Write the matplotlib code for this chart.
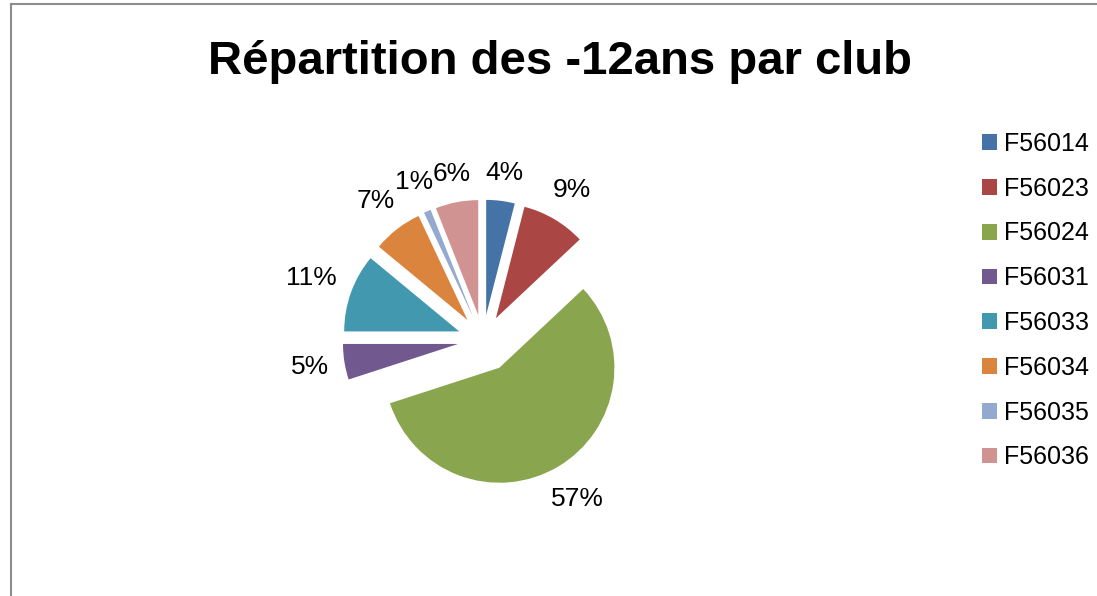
import matplotlib
matplotlib.use("Agg")
import matplotlib.pyplot as plt
import numpy as np
from matplotlib.lines import Line2D
from matplotlib.patches import Patch

plt.rcParams['font.family'] = ['Liberation Sans', 'DejaVu Sans']

# Share of under-12 players per club (percent)
clubs = ["F56014", "F56023", "F56024", "F56031", "F56033", "F56034", "F56035", "F56036"]
shares = [4, 9, 57, 5, 11, 7, 1, 6]
colors = ["#4572A7", "#AA4643", "#89A54E", "#71588F", "#4198AF", "#DB843D", "#93A9CF", "#D19392"]
explode = [0.22, 0.22, 0.28, 0.22, 0.22, 0.22, 0.22, 0.22]

W, H, DPI = 1097, 596, 100
fig = plt.figure(figsize=(W / DPI, H / DPI), dpi=DPI)

# pie axes: 1 data unit = R pixels, centred at (cx, cy) in pixels from top-left
R = 115.0
cx, cy = 483.0, 340.0
half = 220.0
ax = fig.add_axes([(cx - half) / W, (H - cy - half) / H, 2 * half / W, 2 * half / H])

wedges, _ = ax.pie(shares, colors=colors, startangle=90, counterclock=False,
                   explode=explode, radius=1.0, wedgeprops=dict(linewidth=0))
ax.set_xlim(-half / R, half / R)
ax.set_ylim(-half / R, half / R)
ax.set_axis_off()

# percentage labels placed just outside each wedge's outer edge
fig.canvas.draw()
renderer = fig.canvas.get_renderer()
gap = 1.12
for w, val, ex in zip(wedges, shares, explode):
    ang = np.deg2rad((w.theta1 + w.theta2) / 2)
    dx, dy = np.cos(ang), np.sin(ang)
    t = ax.text(0, 0, f"{val}%", fontsize=19, ha="center", va="center", color="black")
    bb = t.get_window_extent(renderer)
    hw, hh = bb.width / 2 / R, bb.height / 2 / R
    dist = ex + gap + abs(dx) * hw + abs(dy) * hh
    t.set_position((dist * dx, dist * dy))

fig.text(560 / W, 1 - 62 / H, "Répartition des -12ans par club", fontsize=34,
         fontweight="bold", ha="center", va="center")

handles = [Patch(facecolor=c, edgecolor="none") for c in colors]
fig.legend(handles, clubs, loc="upper left", bbox_to_anchor=(982 / W, 1 - 132 / H),
           frameon=False, fontsize=18, handlelength=0.6, handleheight=0.6,
           handletextpad=0.3, labelspacing=0.83, borderaxespad=0, borderpad=0)

# chart area border (top and left edges)
fig.add_artist(Line2D([11 / W, 1096 / W], [1 - 4 / H, 1 - 4 / H], color="#8c8c8c", lw=1.5,
                      transform=fig.transFigure))
fig.add_artist(Line2D([11 / W, 11 / W], [1 - 4 / H, 0], color="#8c8c8c", lw=1.5,
                      transform=fig.transFigure))

fig.savefig("out.png", dpi=DPI)
